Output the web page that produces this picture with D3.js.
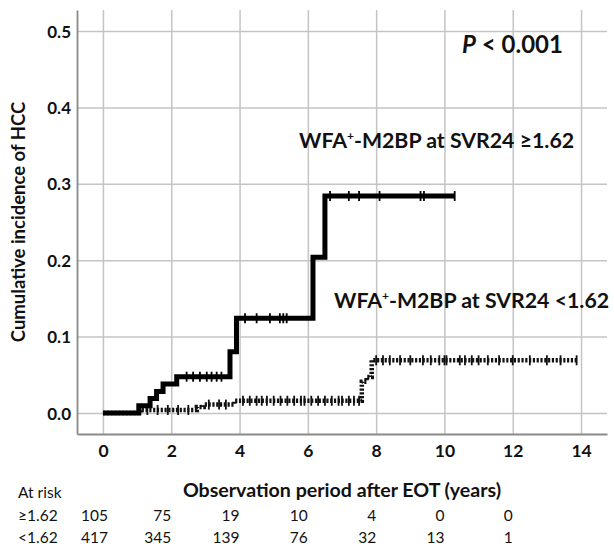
<!DOCTYPE html>
<html>
<head>
<meta charset="utf-8">
<script src="https://cdn.jsdelivr.net/npm/d3@7"></script>
<style>
  html, body { margin: 0; padding: 0; background: #fff; }
  svg { display: block; }
  text { font-family: Lato, "Open Sans", sans-serif; fill: #111; }
</style>
</head>
<body>
<svg id="chart" width="614" height="546"></svg>
<script>
// ---- data ----
const highTimes = [0, 1.05, 1.38, 1.57, 1.76, 2.16, 3.72, 3.91, 6.15, 6.50, 10.30];
const highVals  = [0, 0.0095, 0.019, 0.028, 0.038, 0.0475, 0.080, 0.124, 0.204, 0.284, 0.284];
const highCensor = [2.45, 2.64, 2.84, 3.04, 3.18, 3.33, 3.47, 4.16, 4.50, 4.89, 5.18, 5.28, 5.38,
                    6.65, 7.20, 7.50, 8.10, 9.30, 9.40, 10.30];

const lowTimes = [0, 1.10, 2.75, 2.95, 3.85, 7.58, 7.72, 7.87, 13.87];
const lowVals  = [0, 0.004, 0.008, 0.011, 0.016, 0.041, 0.047, 0.069, 0.069];
const lowCensor = [1.3, 1.6, 1.9, 2.2, 2.5, 3.1, 3.4, 3.6,
                   4.1, 4.3, 4.5, 4.65, 4.8, 5.0, 5.2, 5.4, 5.6, 5.8, 5.9, 6.1, 6.3, 6.5, 6.7, 6.9, 7.0, 7.2, 7.35, 7.5,
                   8.0, 8.2, 8.4, 8.7, 9.0, 9.37, 9.6, 9.85, 10.0, 10.06, 10.45, 10.6, 10.8, 11.0, 11.27, 11.6, 12.0, 12.5, 13.0, 13.4, 13.87];

const xTicks = [0, 2, 4, 6, 8, 10, 12, 14];
const yTicks = [0, 0.1, 0.2, 0.3, 0.4, 0.5];

const riskTimes = [0, 2, 4, 6, 8, 10, 12];
const riskGroups = ["≥1.62", "<1.62"];
const riskHigh = [105, 75, 19, 10, 4, 0, 0];
const riskLow  = [417, 345, 139, 76, 32, 13, 1];

const yTitle = "Cumulative incidence of HCC";
const xTitle = "Observation period after EOT (years)";
const pText = "< 0.001";

// ---- layout ----
const svg = d3.select("#chart");
const L = 77, R = 607, T = 10, B = 434;
const x = d3.scaleLinear().domain([-0.76, 14.76]).range([L, R]);
const y = d3.scaleLinear().domain([-0.0275, 0.5275]).range([B, T]);

// gridlines
svg.append("g").attr("transform", `translate(0,${B})`)
  .call(d3.axisBottom(x).tickValues(xTicks).tickSize(-(B - T)).tickFormat(""))
  .call(g => g.select(".domain").remove())
  .call(g => g.selectAll("line").attr("stroke", "#c4c4c4").attr("stroke-width", 1.5));
svg.append("g").attr("transform", `translate(${L},0)`)
  .call(d3.axisLeft(y).tickValues(yTicks).tickSize(-(R - L)).tickFormat(""))
  .call(g => g.select(".domain").remove())
  .call(g => g.selectAll("line").attr("stroke", "#c4c4c4").attr("stroke-width", 1.5));

// axes
const xAxis = svg.append("g").attr("transform", `translate(0,${B})`)
  .call(d3.axisBottom(x).tickValues(xTicks).tickSize(0).tickFormat(d3.format("d")));
xAxis.select(".domain").attr("stroke", "#8a8a8a").attr("stroke-width", 1.8);
xAxis.selectAll("text").attr("y", 23).attr("dy", 0)
  .style("font-family", "Lato, sans-serif").style("font-size", "17.5px").style("font-weight", "bold").attr("fill", "#111");

const yAxis = svg.append("g").attr("transform", `translate(${L},0)`)
  .call(d3.axisLeft(y).tickValues(yTicks).tickSize(0).tickPadding(6).tickFormat(d3.format(".1f")));
yAxis.select(".domain").attr("stroke", "#8a8a8a").attr("stroke-width", 1.8);
yAxis.selectAll("text").attr("dy", "0.36em")
  .style("font-family", "Lato, sans-serif").style("font-size", "17px").style("font-weight", "bold").attr("fill", "#111");

// curves
const line = d3.line().x(d => x(d[0])).y(d => y(d[1])).curve(d3.curveStepAfter);
const lowPts = lowTimes.map((t, i) => [t, lowVals[i]]);
const highPts = highTimes.map((t, i) => [t, highVals[i]]);

svg.append("path").attr("d", line(lowPts)).attr("fill", "none")
  .attr("stroke", "#111").attr("stroke-width", 4.5).attr("stroke-dasharray", "2.2,1.6");

function stepVal(times, vals, t) {
  let v = vals[0];
  for (let i = 0; i < times.length; i++) if (times[i] <= t) v = vals[i];
  return v;
}
svg.append("g").selectAll("line").data(lowCensor).join("line")
  .attr("x1", d => x(d)).attr("x2", d => x(d))
  .attr("y1", d => y(stepVal(lowTimes, lowVals, d)) - 5)
  .attr("y2", d => y(stepVal(lowTimes, lowVals, d)) + 5)
  .attr("stroke", "#111").attr("stroke-width", 1.8);

svg.append("path").attr("d", line(highPts)).attr("fill", "none")
  .attr("stroke", "#000").attr("stroke-width", 5);
svg.append("g").selectAll("line").data(highCensor).join("line")
  .attr("x1", d => x(d)).attr("x2", d => x(d))
  .attr("y1", d => y(stepVal(highTimes, highVals, d)) - 5)
  .attr("y2", d => y(stepVal(highTimes, highVals, d)) + 5)
  .attr("stroke", "#000").attr("stroke-width", 1.8);

// annotations
const pT = svg.append("text").attr("x", 462).attr("y", 53)
  .style("font-size", "24px").style("font-weight", "bold");
pT.append("tspan").style("font-style", "italic").text("P");
pT.append("tspan").text(" " + pText);

function groupLabel(xPos, yPos, cut) {
  const t = svg.append("text").attr("x", xPos).attr("y", yPos)
    .style("font-size", "21.3px").style("font-weight", "bold");
  t.append("tspan").text("WFA");
  t.append("tspan").attr("dy", -8).style("font-size", "12px").text("+");
  t.append("tspan").attr("dy", 8).text("-M2BP at SVR24 " + cut);
}
groupLabel(299, 148, riskGroups[0]);
groupLabel(334, 308, riskGroups[1]);

// axis titles
svg.append("text").attr("transform", `translate(25,${(T + B) / 2}) rotate(-90)`)
  .attr("text-anchor", "middle").style("font-size", "18.5px").style("font-weight", "bold").text(yTitle);
svg.append("text").attr("x", (L + R) / 2).attr("y", 497)
  .attr("text-anchor", "middle").style("font-size", "19.6px").style("font-weight", "bold").text(xTitle);

// at-risk table
svg.append("text").attr("x", 18).attr("y", 498).style("font-size", "15.5px").text("At risk");
const rows = [riskHigh, riskLow];
const rowY = [521, 543];
rows.forEach((vals, r) => {
  svg.append("text").attr("x", 18).attr("y", rowY[r]).style("font-size", "15.5px").text(riskGroups[r]);
  svg.append("g").selectAll("text").data(vals).join("text")
    .attr("x", (d, i) => x(riskTimes[i]) + (i === 0 ? 5 : 0))
    .attr("y", rowY[r]).attr("text-anchor", "end").style("font-size", "15.5px")
    .text(d => d);
});
</script>
</body>
</html>
